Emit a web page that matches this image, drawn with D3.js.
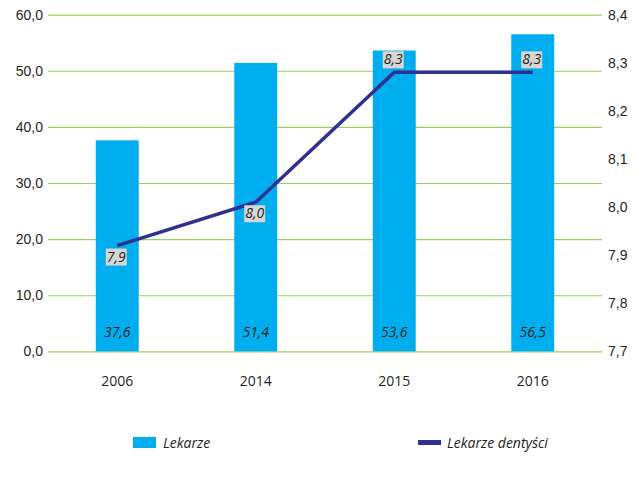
<!DOCTYPE html>
<html>
<head>
<meta charset="utf-8">
<script src="https://cdn.jsdelivr.net/npm/d3@7"></script>
<style>
  body { margin: 0; background: #fff; }
  svg { display: block; font-family: 'Open Sans', sans-serif; }
</style>
</head>
<body>
<div id="chart"></div>
<script>
// data
const years = ['2006', '2014', '2015', '2016']
const lekarze = [37.6, 51.4, 53.6, 56.5]
const dentysci = [7.92, 8.01, 8.28, 8.28]
const leftTicks = [0, 10, 20, 30, 40, 50, 60]
const rightTicks = [7.7, 7.8, 7.9, 8.0, 8.1, 8.2, 8.3, 8.4]
const seriesNames = ['Lekarze', 'Lekarze dentyści']

const width = 633
const height = 481
const plot = { left: 48, right: 602, top: 14.6, bottom: 351.4 }
const barColor = '#00aeef'
const lineColor = '#2e3192'
const gridColor = '#9ccf62'
const textColor = '#231f20'

// polish decimal comma
const fmt = d => d3.format('.1f')(d).replace('.', ',')

const svg = d3.select('#chart').append('svg')
  .attr('width', width)
  .attr('height', height)

const x = d3.scaleBand()
  .domain(years)
  .range([plot.left, plot.right])
  .padding(0)
const yL = d3.scaleLinear().domain([0, 60]).range([plot.bottom, plot.top])
const yR = d3.scaleLinear().domain([7.7, 8.4]).range([plot.bottom, plot.top])
const barW = x.bandwidth() * 0.31
const cx = d => x(d) + x.bandwidth() / 2

// left axis + grid
const gLeft = svg.append('g')
  .attr('transform', 'translate(' + plot.left + ',0)')
  .call(d3.axisLeft(yL).tickValues(leftTicks).tickFormat(fmt)
    .tickSize(-(plot.right - plot.left)).tickPadding(5))
gLeft.select('.domain').remove()
gLeft.selectAll('line').attr('stroke', gridColor).attr('stroke-width', 1.2)
gLeft.selectAll('text').attr('fill', textColor).style('font-size', '14px')

// right axis, labels only
const gRight = svg.append('g')
  .attr('transform', 'translate(' + plot.right + ',0)')
  .call(d3.axisRight(yR).tickValues(rightTicks).tickFormat(fmt)
    .tickSize(0).tickPadding(6))
gRight.select('.domain').remove()
gRight.selectAll('text').attr('fill', textColor).style('font-size', '14px')

// x labels
svg.append('g').selectAll('text')
  .data(years)
  .join('text')
  .attr('x', d => cx(d))
  .attr('y', 386)
  .attr('text-anchor', 'middle')
  .attr('fill', textColor)
  .style('font-size', '14px')
  .text(d => d)

// bars
svg.append('g').selectAll('rect')
  .data(lekarze)
  .join('rect')
  .attr('x', (d, i) => cx(years[i]) - barW / 2)
  .attr('y', d => yL(d))
  .attr('width', barW)
  .attr('height', d => yL(0) - yL(d))
  .attr('fill', barColor)

// bar value labels, near the bottom of each bar
svg.append('g').selectAll('text')
  .data(lekarze)
  .join('text')
  .attr('x', (d, i) => cx(years[i]))
  .attr('y', plot.bottom - 14)
  .attr('text-anchor', 'middle')
  .attr('fill', textColor)
  .style('font-size', '14px')
  .style('font-style', 'italic')
  .text(d => fmt(d))

// line
const line = d3.line()
  .x((d, i) => cx(years[i]))
  .y(d => yR(d))
svg.append('path')
  .datum(dentysci)
  .attr('d', line)
  .attr('fill', 'none')
  .attr('stroke', lineColor)
  .attr('stroke-width', 3.5)

// line labels with grey boxes: below the point for the first two, above for the rest
const lbl = svg.append('g').selectAll('g')
  .data(dentysci)
  .join('g')
  .attr('transform', (d, i) => {
    const boxTop = i < 2 ? yR(d) + 3 : yR(d) - 21
    return 'translate(' + (cx(years[i]) - 1) + ',' + boxTop + ')'
  })
lbl.append('rect')
  .attr('x', -10.5)
  .attr('y', 0)
  .attr('width', 21)
  .attr('height', 17)
  .attr('fill', '#d6d6d6')
lbl.append('text')
  .attr('x', 0)
  .attr('y', 13)
  .attr('text-anchor', 'middle')
  .attr('fill', textColor)
  .style('font-size', '14px')
  .style('font-style', 'italic')
  .text(d => fmt(d))

// legend
const leg = svg.append('g')
leg.append('rect')
  .attr('x', 133).attr('y', 437)
  .attr('width', 23).attr('height', 11)
  .attr('fill', barColor)
leg.append('text')
  .attr('x', 163).attr('y', 448)
  .attr('fill', textColor)
  .style('font-size', '14px')
  .style('font-style', 'italic')
  .text(seriesNames[0])
leg.append('line')
  .attr('x1', 418).attr('x2', 441)
  .attr('y1', 442.5).attr('y2', 442.5)
  .attr('stroke', lineColor)
  .attr('stroke-width', 5)
leg.append('text')
  .attr('x', 447).attr('y', 448)
  .attr('fill', textColor)
  .style('font-size', '14px')
  .style('font-style', 'italic')
  .text(seriesNames[1])
</script>
</body>
</html>
